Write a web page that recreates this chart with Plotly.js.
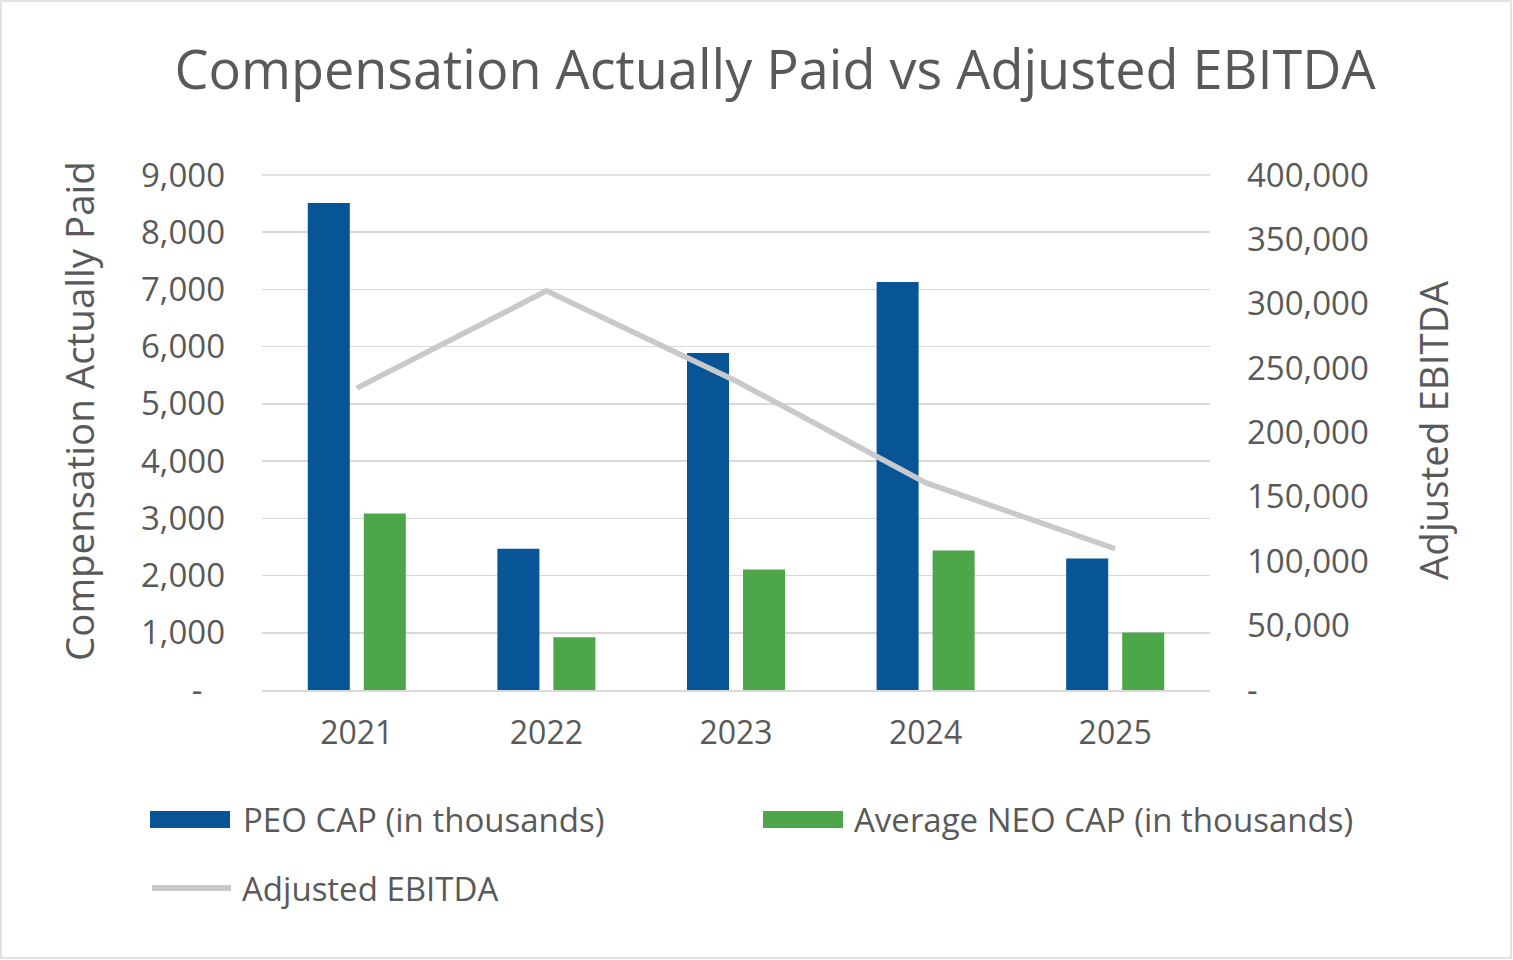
<!DOCTYPE html>
<html>
<head>
<meta charset="utf-8">
<script src="https://cdn.plot.ly/plotly-3.0.1.min.js"></script>
<style>html,body{margin:0;padding:0;background:#fff;}#chart{width:1513px;height:960px;}</style>
</head>
<body>
<div id="chart"></div>
<script>
// ---- data ----
const years = ["2021", "2022", "2023", "2024", "2025"];
const peoCap = [8510, 2470, 5890, 7130, 2300];
const neoCap = [3085, 920, 2105, 2440, 1005];
const adjEbitda = [234500, 310000, 240000, 161000, 109700];
const leftTickVals = [0, 1000, 2000, 3000, 4000, 5000, 6000, 7000, 8000, 9000];
const leftTickText = ["-\u00a0\u00a0\u2009", "1,000", "2,000", "3,000", "4,000", "5,000", "6,000", "7,000", "8,000", "9,000"];
const rightTickVals = [0, 50000, 100000, 150000, 200000, 250000, 300000, 350000, 400000];
const rightTickText = ["-", "50,000", "100,000", "150,000", "200,000", "250,000", "300,000", "350,000", "400,000"];
const seriesNames = ["PEO CAP (in thousands)", "Average NEO CAP (in thousands)", "Adjusted EBITDA"];
const chartTitle = "Compensation Actually Paid vs Adjusted EBITDA";
const leftAxisTitle = "Compensation Actually Paid";
const rightAxisTitle = "Adjusted EBITDA";

// ---- style ----
const FONT = "Open Sans, Noto Sans, sans-serif";
const TXT = "#595959";
const BLUE = "#075497";
const GREEN = "#4ea64a";
const GREY = "#c8c9cb";
const GRID = "#d9d9d9";

// plot area in pixels
const L = 262, R = 1210, T = 175, B = 690, W = 1513, H = 960;
const px2x = p => (p - L) / (R - L);
const px2y = p => 1 - (p - T) / (B - T);

const traces = [
  {type: "bar", x: years, y: peoCap, name: seriesNames[0], marker: {color: BLUE}, yaxis: "y", hoverinfo: "x+y"},
  {type: "bar", x: years, y: neoCap, name: seriesNames[1], marker: {color: GREEN}, yaxis: "y", hoverinfo: "x+y"},
  {type: "scatter", mode: "lines", x: years, y: adjEbitda, name: seriesNames[2], yaxis: "y2",
   line: {color: GREY, width: 5.5}, hoverinfo: "x+y"}
];

const shapes = [
  // chart border
  {type: "rect", xref: "paper", yref: "paper", x0: px2x(1), x1: px2x(1511), y0: px2y(1), y1: px2y(958),
   line: {color: GRID, width: 1.5}, fillcolor: "rgba(0,0,0,0)", layer: "below"},
  // top gridline (plot edge)
  {type: "line", xref: "paper", yref: "paper", x0: 0, x1: 1, y0: 1, y1: 1,
   line: {color: GRID, width: 1.5}, layer: "below"},
  // legend symbols
  {type: "rect", xref: "paper", yref: "paper", x0: px2x(150), x1: px2x(230), y0: px2y(811), y1: px2y(828),
   line: {width: 0}, fillcolor: BLUE},
  {type: "rect", xref: "paper", yref: "paper", x0: px2x(763), x1: px2x(843), y0: px2y(811), y1: px2y(828),
   line: {width: 0}, fillcolor: GREEN},
  {type: "line", xref: "paper", yref: "paper", x0: px2x(152), x1: px2x(231), y0: px2y(888), y1: px2y(888),
   line: {color: GREY, width: 6}}
];

const legendText = (txt, xp, yp) => ({
  text: txt, xref: "paper", yref: "paper", x: px2x(xp), y: px2y(yp),
  xanchor: "left", yanchor: "middle", showarrow: false,
  font: {family: FONT, size: 33, color: TXT}
});

const axisTitle = (txt, xp, yp) => ({
  text: txt, xref: "paper", yref: "paper", x: px2x(xp), y: px2y(yp),
  xanchor: "center", yanchor: "middle", textangle: -90, showarrow: false,
  font: {family: FONT, size: 38.5, color: TXT}
});

const annotations = [
  legendText(seriesNames[0], 241, 819),
  legendText(seriesNames[1], 852, 819),
  legendText(seriesNames[2], 240, 888),
  axisTitle(leftAxisTitle, 79, 411),
  axisTitle(rightAxisTitle, 1433, 430)
];

const layout = {
  width: W, height: H,
  margin: {l: L, r: W - R, t: T, b: H - B, pad: 0},
  paper_bgcolor: "#fff", plot_bgcolor: "#fff",
  font: {family: FONT, color: TXT, size: 33},
  title: {text: chartTitle, font: {family: FONT, size: 54, color: TXT},
          x: 775 / W, xref: "container", xanchor: "center", y: 1 - 70 / H, yref: "container", yanchor: "middle"},
  showlegend: false,
  barmode: "group", bargap: 0.409, bargroupgap: 0.25,
  xaxis: {type: "category", showgrid: false, showline: true, linecolor: GRID, linewidth: 1.5,
          ticks: "", tickfont: {family: FONT, size: 32, color: TXT}, ticklabelstandoff: 14, fixedrange: true},
  yaxis: {range: [0, 9000], tickvals: leftTickVals, ticktext: leftTickText, showgrid: true, gridcolor: GRID, gridwidth: 1.5,
          zeroline: false, showline: false, ticks: "", tickfont: {family: FONT, size: 33, color: TXT},
          ticklabelstandoff: 36},
  yaxis2: {range: [0, 400000], tickvals: rightTickVals, ticktext: rightTickText, overlaying: "y", side: "right",
           showgrid: false, zeroline: false, showline: false, ticks: "", tickfont: {family: FONT, size: 33, color: TXT},
           ticklabelstandoff: 36},
  shapes: shapes,
  annotations: annotations
};

Plotly.newPlot("chart", traces, layout, {displayModeBar: false, staticPlot: true});
</script>
</body>
</html>
